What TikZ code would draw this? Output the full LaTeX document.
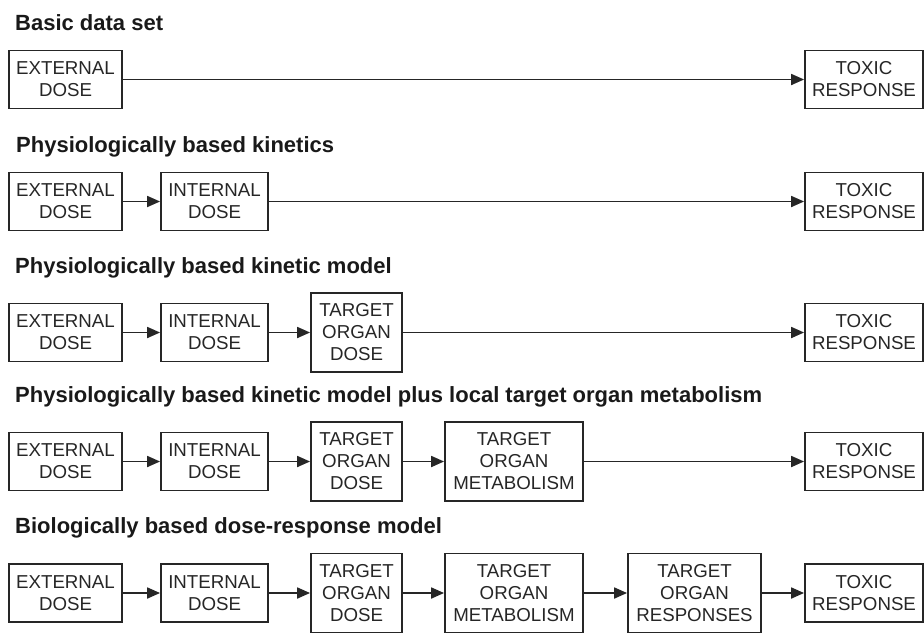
\documentclass[tikz,border=0pt]{standalone}
\usepackage{fontspec}
\setmainfont{Liberation Sans}
\usetikzlibrary{arrows.meta}
\begin{document}
\begin{tikzpicture}[x=1pt,y=-1pt,
  box/.style={draw=black!85, line width=1.8pt, inner sep=0pt, align=center,
    font=\fontsize{18.7}{22}\selectfont, text=black!85},
  two/.style={box, minimum height=58pt},
  three/.style={box, minimum height=79pt},
  cA/.style={minimum width=113pt},
  cB/.style={minimum width=107pt},
  cC/.style={minimum width=91pt},
  cD/.style={minimum width=138pt},
  cE/.style={minimum width=133pt},
  cF/.style={minimum width=118pt},
  title/.style={anchor=base west, inner sep=0pt, font=\bfseries\fontsize{22}{24}\selectfont, text=black!90},
  link/.style={draw=black!85, line width=1.8pt, -{Triangle[length=13pt,width=11pt]}}
]
\useasboundingbox (0,0) rectangle (924,633);

% Row 1
\node[title] (t1) at (15,30) {Basic data set};
\node[two,cA] (a1) at (65.5,79.5) {EXTERNAL\\DOSE};
\node[two,cF] (f1) at (864,79.5) {TOXIC\\RESPONSE};
\draw[link] (a1) -- (f1);

% Row 2
\node[title] (t2) at (16,152) {Physiologically based kinetics};
\node[two,cA] (a2) at (65.5,201.5) {EXTERNAL\\DOSE};
\node[two,cB] (b2) at (214.5,201.5) {INTERNAL\\DOSE};
\node[two,cF] (f2) at (864,201.5) {TOXIC\\RESPONSE};
\draw[link] (a2) -- (b2);
\draw[link] (b2) -- (f2);

% Row 3
\node[title] (t3) at (15,273) {Physiologically based kinetic model};
\node[two,cA] (a3) at (65.5,332.5) {EXTERNAL\\DOSE};
\node[two,cB] (b3) at (214.5,332.5) {INTERNAL\\DOSE};
\node[three,cC] (c3) at (356.5,332.5) {TARGET\\ORGAN\\DOSE};
\node[two,cF] (f3) at (864,332.5) {TOXIC\\RESPONSE};
\draw[link] (a3) -- (b3);
\draw[link] (b3) -- (c3);
\draw[link] (c3) -- (f3);

% Row 4
\node[title] (t4) at (15,402) {Physiologically based kinetic model plus local target organ metabolism};
\node[two,cA] (a4) at (65.5,461.5) {EXTERNAL\\DOSE};
\node[two,cB] (b4) at (214.5,461.5) {INTERNAL\\DOSE};
\node[three,cC] (c4) at (356.5,461.5) {TARGET\\ORGAN\\DOSE};
\node[three,cD] (d4) at (514,461.5) {TARGET\\ORGAN\\METABOLISM};
\node[two,cF] (f4) at (864,461.5) {TOXIC\\RESPONSE};
\draw[link] (a4) -- (b4);
\draw[link] (b4) -- (c4);
\draw[link] (c4) -- (d4);
\draw[link] (d4) -- (f4);

% Row 5
\node[title] (t5) at (15,533) {Biologically based dose-response model};
\node[two,cA] (a5) at (65.5,593) {EXTERNAL\\DOSE};
\node[two,cB] (b5) at (214.5,593) {INTERNAL\\DOSE};
\node[three,cC] (c5) at (356.5,593) {TARGET\\ORGAN\\DOSE};
\node[three,cD] (d5) at (514,593) {TARGET\\ORGAN\\METABOLISM};
\node[three,cE] (e5) at (694.5,593) {TARGET\\ORGAN\\RESPONSES};
\node[two,cF] (f5) at (864,593) {TOXIC\\RESPONSE};
\draw[link] (a5) -- (b5);
\draw[link] (b5) -- (c5);
\draw[link] (c5) -- (d5);
\draw[link] (d5) -- (e5);
\draw[link] (e5) -- (f5);
\end{tikzpicture}
\end{document}
